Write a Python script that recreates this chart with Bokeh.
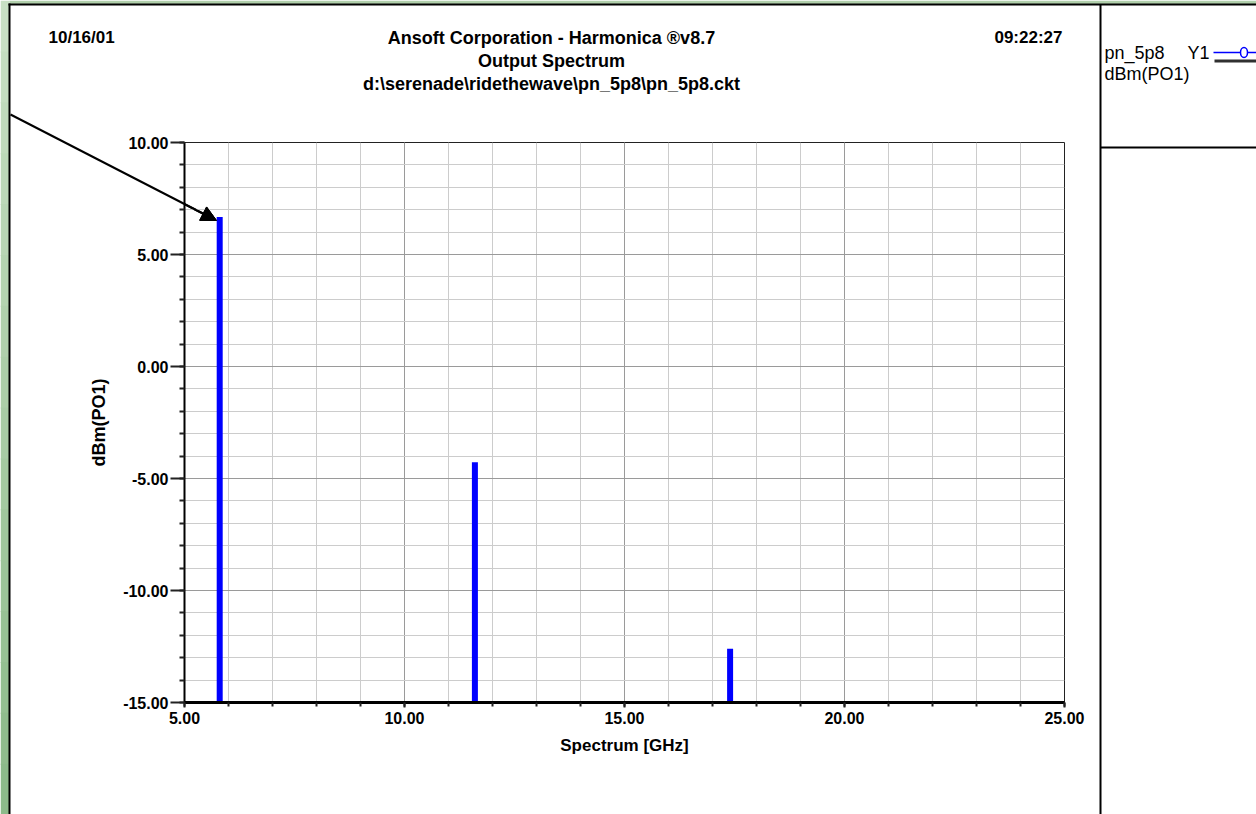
from bokeh.plotting import figure
from bokeh.models import (FixedTicker, NumeralTickFormatter, Label, Arrow, NormalHead,
                          ColumnDataSource, LinearAxis, Range1d, Grid, GridBox)
from bokeh.embed import file_html
from bokeh.resources import INLINE

# ---- data ----
freq_ghz = [5.8, 11.6, 17.4]
dbm_po1 = [6.67, -4.27, -12.6]
x_major = [5, 10, 15, 20, 25]
x_minor = list(range(5, 26))
y_major = [-15, -10, -5, 0, 5, 10]
y_minor = list(range(-15, 11))
title_lines = ["Ansoft Corporation - Harmonica \u00aev8.7", "Output Spectrum",
               "d:\\serenade\\ridethewave\\pn_5p8\\pn_5p8.ckt"]
date_text = "10/16/01"
time_text = "09:22:27"
x_label = "Spectrum [GHz]"
y_label = "dBm(PO1)"
legend_name = "pn_5p8"
legend_trace = "Y1"
legend_expr = "dBm(PO1)"

# ---- layout (pixels) ----
W, H = 1256, 814
L, R, T, B = 184, 1064, 142, 702
XMIN, XMAX, YMIN, YMAX = 5, 25, -15, 10
KX = (R - L) / (XMAX - XMIN)
KY = (B - T) / (YMAX - YMIN)
FONT = "Liberation Sans"


def X(px):
    return XMIN + (px - L) / KX


def Y(py):
    return YMAX - (py - T) / KY


# =============== background / window decoration figure (pixel space) ===============
bg = figure(width=W, height=H, x_range=Range1d(0, W), y_range=Range1d(H, 0),
            output_backend="svg", toolbar_location=None, x_axis_type=None, y_axis_type=None,
            min_border=0)
bg.grid.visible = False
bg.outline_line_color = None
bg.background_fill_color = "white"
bg.border_fill_color = "white"

# green desktop strips (left gradient + top strip)
n = 16
gl, gr, gt, gb, gc = [], [], [], [], []
for i in range(n):
    t = i / (n - 1)
    gl.append(0); gr.append(9); gt.append(i * H / n); gb.append((i + 1) * H / n + 1)
    gc.append("#%02x%02x%02x" % (int(200 - 60 * t), int(224 - 38 * t), int(196 - 58 * t)))
gl.append(9); gr.append(W); gt.append(0); gb.append(4); gc.append("#b0cfab")
bg.quad(left=gl, right=gr, top=gt, bottom=gb, fill_color=gc, line_color=None)

# window borders and dividers
bg.quad(left=[8, 8, 1099, 1100], right=[10, W, 1101, W], top=[3, 3, 4, 146], bottom=[H, 5, H, 148],
        fill_color="black", line_color=None)


def lab(fig, px, py, text, align="left", size="17px", style="bold"):
    fig.add_layout(Label(x=px, y=py, text=text, text_align=align, text_baseline="middle",
                         text_font=FONT, text_font_size=size, text_font_style=style,
                         text_color="black"))


lab(bg, 48, 37, date_text)
lab(bg, 1062, 37, time_text, align="right")
for i, t in enumerate(title_lines):
    lab(bg, 551, 37 + 23 * i, t, align="center", size="18px")

# legend panel
lab(bg, 1104, 52, legend_name, size="18px", style="normal")
lab(bg, 1187, 52, legend_trace, size="18px", style="normal")
lab(bg, 1104, 73, legend_expr, size="18px", style="normal")
bg.segment(x0=[1213], y0=[52], x1=[W], y1=[52], line_color="#0000ff", line_width=1.5)
bg.quad(left=[1214], right=[W], top=[59], bottom=[62], fill_color="#303030", line_color=None)
bg.ellipse(x=[1243.5], y=[52], width=7, height=10, fill_color="white",
           line_color="#0000ff", line_width=1.5)

arrow_start = (10, 114)
arrow_end = (216, 220)
bg.add_layout(Arrow(x_start=arrow_start[0], y_start=arrow_start[1],
                    x_end=arrow_end[0], y_end=arrow_end[1],
                    line_color="black", line_width=2,
                    end=NormalHead(size=15, fill_color="black", line_color="black")))

# =============== main chart ===============
p = figure(width=W, height=H, x_range=Range1d(XMIN, XMAX), y_range=Range1d(YMIN, YMAX),
           output_backend="svg", toolbar_location=None,
           x_axis_type=None, y_axis_type=None,
           min_border_left=L, min_border_right=W - R, min_border_top=T, min_border_bottom=H - B)
p.border_fill_alpha = 0
p.background_fill_alpha = 0
p.outline_line_color = "#222222"
p.outline_line_width = 1

xt = FixedTicker(ticks=x_major, minor_ticks=x_minor)
yt = FixedTicker(ticks=y_major, minor_ticks=y_minor)

xaxis = LinearAxis(ticker=xt, formatter=NumeralTickFormatter(format="0.00"))
yaxis = LinearAxis(ticker=yt, formatter=NumeralTickFormatter(format="0.00"))
for ax in (xaxis, yaxis):
    ax.major_label_text_font = FONT
    ax.major_label_text_font_style = "bold"
    ax.major_label_text_font_size = "16px"
    ax.major_label_text_color = "black"
    ax.axis_label_text_font = FONT
    ax.axis_label_text_font_style = "bold"
    ax.axis_label_text_font_size = "17px"
    ax.axis_label_text_color = "black"
    ax.axis_line_color = "black"
    ax.major_tick_line_color = "#222222"
    ax.minor_tick_line_color = "#222222"
    ax.major_tick_in = 0
    ax.minor_tick_in = 0
    ax.major_tick_line_width = 2
    ax.minor_tick_line_width = 2
xaxis.axis_line_width = 3
xaxis.major_tick_out = 5
xaxis.minor_tick_out = 4
xaxis.major_label_standoff = 4
xaxis.axis_label = x_label
xaxis.axis_label_standoff = 9
yaxis.axis_line_width = 2
yaxis.major_tick_out = 14
yaxis.minor_tick_out = 5
yaxis.major_label_standoff = 2
yaxis.axis_label = y_label
yaxis.axis_label_text_font_size = "18px"
yaxis.axis_label_standoff = 11
p.add_layout(xaxis, "below")
p.add_layout(yaxis, "left")

for dim, tk in ((0, xt), (1, yt)):
    g = Grid(dimension=dim, ticker=tk)
    g.grid_line_color = "#9a9a9a"
    g.grid_line_width = 1
    g.minor_grid_line_color = "#cccccc"
    g.minor_grid_line_width = 1
    p.add_layout(g)

src = ColumnDataSource(dict(x=freq_ghz, y=dbm_po1, base=[YMIN] * len(freq_ghz)))
p.segment(x0="x", y0="base", x1="x", y1="y", source=src, line_color="#0000ff",
          line_width=6, line_cap="butt")

# part of the pointer arrow lying over the plot area (drawn on top of the grid)
p.add_layout(Arrow(x_start=X(arrow_start[0]), y_start=Y(arrow_start[1]),
                   x_end=X(arrow_end[0]), y_end=Y(arrow_end[1]),
                   line_color="black", line_width=2,
                   end=NormalHead(size=15, fill_color="black", line_color="black")))

try:
    bg.frame_align = False
    p.frame_align = False
    root = GridBox(children=[(bg, 0, 0), (p, 0, 0)], width=W, height=H)
except Exception:
    from bokeh.models import Column
    p.styles = {"position": "absolute", "left": "0px", "top": "0px"}
    root = Column(children=[bg, p], width=W, height=H)

open("out.html", "w").write(file_html(root, INLINE))
